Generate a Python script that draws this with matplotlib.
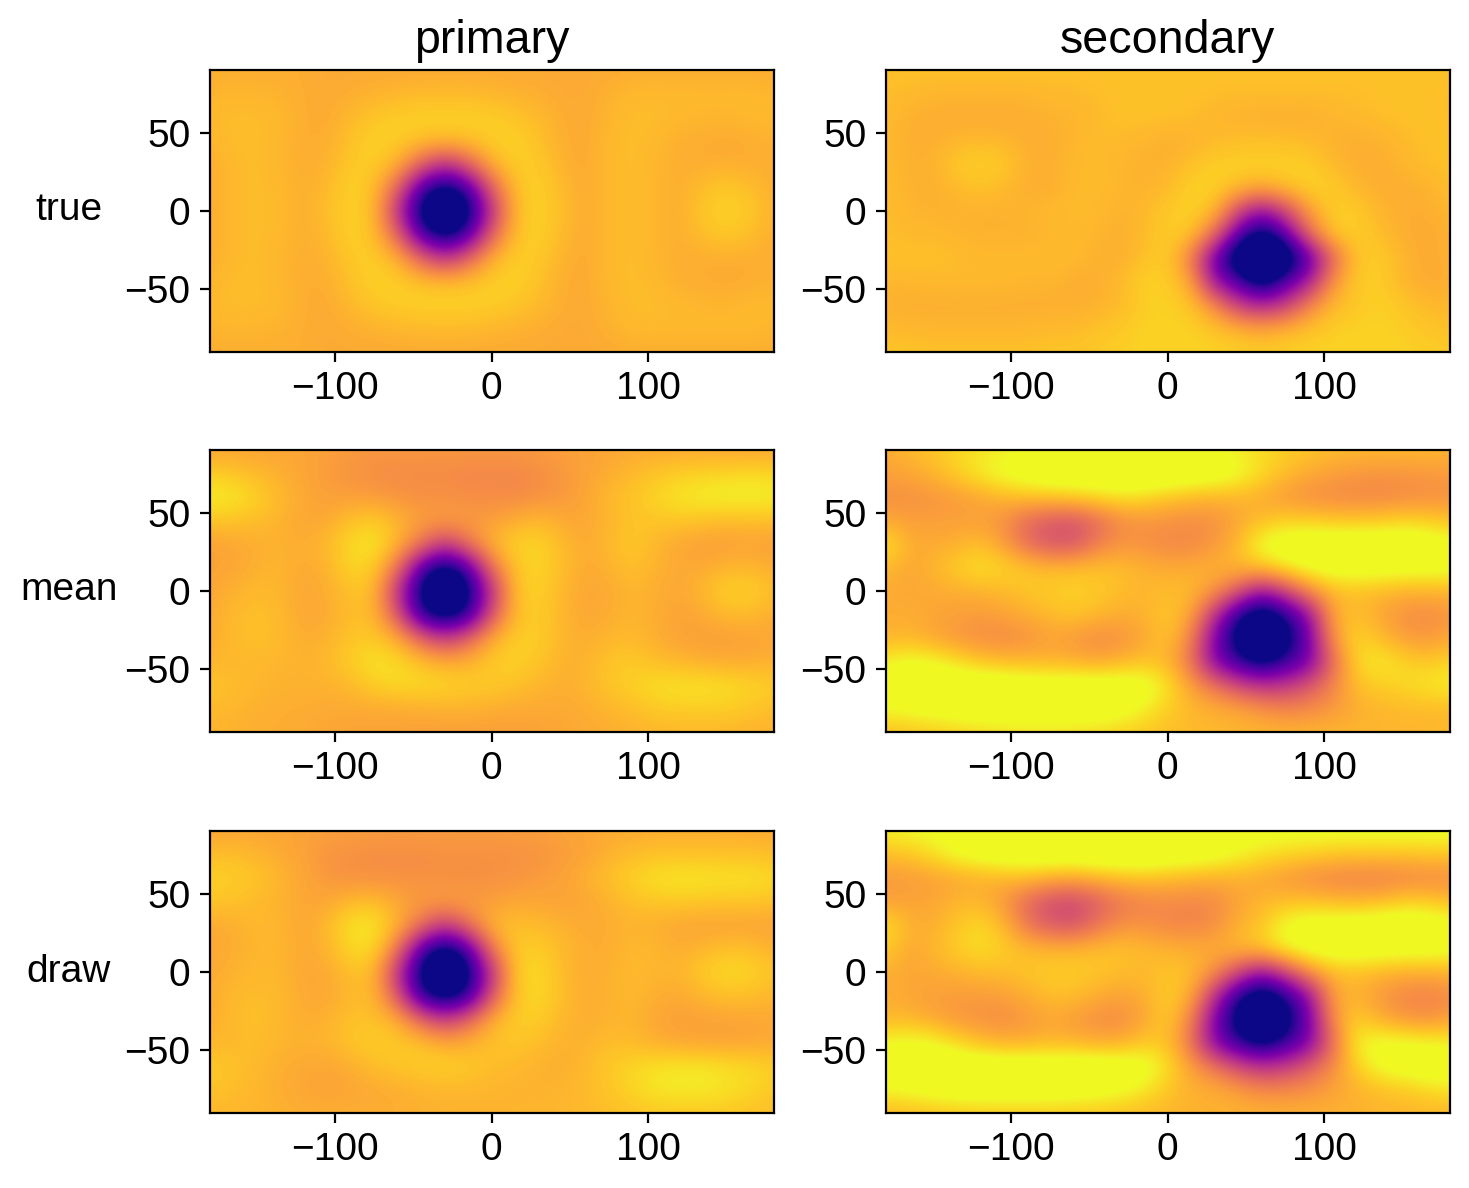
import numpy as np
import matplotlib
matplotlib.use("Agg")
import matplotlib.pyplot as plt

plt.rcParams['font.family'] = ['Liberation Sans', 'DejaVu Sans']
plt.rcParams['font.size'] = 14

# brightness maps on a 15 degree grid, lat 90 to -90 (rows), lon -180 to 180 (cols)
# values in percent of the colour range, clipped below 0 and above 100 when drawn
primary_true = [
    [82, 82, 82, 82, 82, 81, 81, 81, 81, 81, 81, 81, 81, 81, 81, 81, 81, 81, 82, 82, 82, 82, 82, 82, 82],
    [84, 84, 84, 83, 82, 81, 82, 83, 84, 85, 85, 85, 84, 83, 82, 81, 81, 83, 85, 85, 85, 85, 85, 85, 84],
    [85, 86, 86, 85, 82, 81, 85, 88, 90, 91, 91, 91, 90, 88, 85, 82, 81, 84, 86, 86, 85, 84, 84, 85, 85],
    [84, 86, 86, 84, 82, 82, 87, 91, 90, 87, 86, 87, 90, 91, 87, 82, 81, 85, 86, 85, 82, 82, 81, 82, 83],
    [82, 85, 86, 84, 82, 83, 89, 90, 83, 60, 42, 60, 83, 90, 89, 83, 81, 85, 86, 84, 82, 82, 82, 82, 82],
    [82, 85, 86, 85, 82, 85, 91, 87, 60, 13, -4, 13, 60, 87, 91, 85, 81, 85, 86, 84, 82, 86, 89, 86, 82],
    [82, 85, 86, 85, 82, 86, 91, 86, 42, -4, -60, -4, 42, 86, 91, 86, 81, 85, 86, 84, 82, 89, 91, 89, 83],
    [82, 85, 86, 85, 82, 85, 91, 87, 60, 13, -4, 13, 60, 87, 91, 85, 81, 85, 86, 84, 82, 86, 89, 86, 82],
    [82, 85, 86, 84, 82, 83, 89, 90, 83, 60, 42, 60, 83, 90, 89, 83, 81, 85, 86, 84, 82, 82, 82, 82, 82],
    [84, 86, 86, 84, 82, 82, 87, 91, 90, 87, 86, 87, 90, 91, 87, 82, 81, 85, 86, 85, 82, 82, 81, 82, 83],
    [85, 86, 86, 85, 82, 81, 85, 88, 90, 91, 91, 91, 90, 88, 85, 82, 81, 84, 86, 86, 85, 84, 84, 85, 85],
    [84, 84, 84, 83, 82, 81, 82, 83, 84, 85, 85, 85, 84, 83, 82, 81, 81, 83, 85, 85, 85, 85, 85, 85, 84],
    [82, 82, 82, 82, 82, 81, 81, 81, 81, 81, 81, 81, 81, 81, 81, 81, 81, 81, 82, 82, 82, 82, 82, 82, 82],
]
secondary_true = [
    [87, 87, 87, 87, 87, 87, 87, 87, 87, 87, 87, 87, 87, 87, 87, 87, 87, 87, 87, 87, 87, 87, 87, 87, 87],
    [86, 85, 84, 84, 84, 84, 84, 85, 85, 86, 87, 87, 87, 87, 86, 86, 86, 86, 86, 86, 86, 87, 87, 87, 86],
    [85, 83, 82, 81, 81, 81, 82, 83, 84, 85, 87, 87, 87, 86, 84, 83, 82, 82, 82, 84, 85, 86, 87, 87, 86],
    [85, 82, 82, 84, 85, 84, 82, 82, 84, 86, 85, 84, 82, 83, 85, 86, 87, 86, 85, 83, 82, 83, 85, 87, 87],
    [85, 83, 83, 89, 91, 89, 83, 82, 85, 86, 84, 83, 83, 87, 90, 91, 91, 91, 90, 85, 82, 82, 84, 86, 87],
    [86, 83, 82, 85, 87, 85, 82, 82, 85, 86, 84, 83, 85, 91, 91, 86, 82, 87, 91, 90, 84, 82, 82, 83, 86],
    [86, 84, 83, 83, 83, 83, 84, 85, 86, 85, 83, 85, 89, 91, 86, 50, 30, 50, 78, 90, 90, 84, 82, 82, 84],
    [86, 85, 85, 84, 83, 83, 83, 84, 85, 84, 82, 85, 90, 88, 62, 18, -10, 18, 62, 88, 90, 86, 82, 81, 83],
    [87, 87, 87, 86, 85, 85, 85, 86, 85, 83, 82, 87, 90, 68, 20, -20, -70, -20, 15, 60, 88, 90, 84, 81, 83],
    [84, 84, 85, 85, 85, 85, 84, 84, 82, 82, 85, 91, 90, 80, 30, 15, -10, 15, 35, 75, 89, 90, 84, 81, 82],
    [83, 82, 82, 82, 82, 82, 82, 82, 82, 83, 85, 90, 91, 88, 72, 46, 38, 46, 70, 85, 88, 91, 88, 85, 84],
    [85, 84, 84, 84, 84, 84, 84, 85, 85, 87, 89, 91, 91, 91, 88, 84, 80, 84, 87, 90, 91, 91, 90, 88, 87],
    [88, 88, 87, 87, 87, 87, 87, 88, 88, 89, 90, 91, 91, 91, 91, 90, 90, 90, 91, 91, 91, 91, 91, 90, 89],
]
primary_mean = [
    [80, 80, 80, 80, 80, 78, 77, 76, 76, 76, 76, 76, 76, 76, 77, 78, 79, 80, 81, 81, 81, 81, 80, 80, 80],
    [90, 88, 85, 82, 80, 77, 75, 73, 72, 72, 72, 71, 71, 71, 73, 76, 79, 82, 85, 88, 90, 91, 92, 93, 92],
    [98, 96, 91, 85, 81, 78, 78, 77, 75, 74, 74, 73, 73, 72, 74, 76, 80, 85, 88, 92, 96, 98, 99, 99, 98],
    [88, 87, 86, 83, 80, 81, 87, 90, 84, 78, 78, 77, 78, 82, 85, 81, 80, 84, 87, 88, 88, 87, 85, 86, 86],
    [79, 80, 82, 83, 82, 85, 93, 96, 84, 66, 45, 66, 84, 91, 92, 85, 81, 85, 89, 84, 80, 78, 78, 79, 78],
    [79, 80, 83, 84, 81, 83, 92, 90, 65, 15, -5, 15, 65, 88, 92, 86, 81, 83, 87, 83, 81, 81, 84, 84, 82],
    [80, 83, 85, 84, 80, 82, 87, 86, 42, -2, -60, -2, 42, 88, 91, 84, 80, 81, 84, 82, 80, 85, 91, 91, 86],
    [81, 85, 87, 85, 80, 81, 86, 85, 55, 5, -8, 5, 55, 86, 90, 84, 80, 82, 84, 82, 79, 81, 85, 85, 82],
    [82, 85, 87, 85, 82, 83, 88, 89, 82, 60, 45, 60, 82, 90, 90, 84, 82, 84, 85, 82, 79, 78, 78, 79, 80],
    [83, 85, 85, 84, 83, 85, 90, 95, 93, 87, 82, 83, 89, 91, 88, 83, 83, 88, 89, 86, 84, 82, 81, 81, 83],
    [88, 86, 84, 83, 83, 83, 85, 90, 93, 93, 92, 90, 89, 87, 84, 82, 84, 88, 91, 94, 95, 95, 94, 92, 90],
    [85, 84, 83, 82, 82, 81, 81, 81, 81, 82, 83, 83, 82, 81, 81, 81, 82, 84, 86, 89, 90, 90, 90, 88, 86],
    [84, 83, 82, 82, 81, 80, 79, 79, 79, 78, 78, 78, 78, 78, 79, 80, 81, 82, 83, 84, 84, 84, 84, 83, 83],
]
secondary_mean = [
    [82, 85, 88, 92, 95, 97, 99, 100, 100, 100, 100, 100, 100, 100, 99, 97, 93, 90, 88, 86, 85, 85, 85, 85, 84],
    [78, 80, 84, 90, 97, 103, 106, 110, 110, 110, 112, 112, 112, 110, 108, 102, 93, 86, 81, 78, 76, 75, 75, 76, 77],
    [74, 74, 75, 77, 80, 84, 87, 88, 90, 93, 95, 93, 88, 85, 83, 84, 81, 76, 73, 72, 71, 71, 72, 73, 74],
    [80, 78, 78, 78, 78, 74, 62, 56, 54, 62, 72, 75, 74, 73, 74, 80, 86, 90, 90, 88, 88, 89, 91, 90, 87],
    [96, 82, 81, 83, 86, 78, 63, 55, 55, 68, 75, 74, 71, 71, 76, 85, 103, 108, 110, 110, 110, 110, 110, 108, 103],
    [85, 80, 84, 90, 95, 92, 88, 85, 86, 87, 86, 83, 81, 82, 83, 85, 88, 96, 102, 106, 107, 106, 105, 105, 104],
    [81, 80, 81, 82, 83, 85, 88, 90, 91, 89, 86, 84, 86, 85, 76, 56, 33, 50, 72, 85, 86, 85, 83, 83, 84],
    [82, 82, 80, 78, 77, 79, 82, 85, 88, 85, 82, 83, 89, 80, 42, 5, -15, 5, 30, 80, 87, 80, 74, 72, 75],
    [83, 84, 80, 76, 73, 72, 74, 79, 76, 72, 74, 80, 88, 70, 25, -10, -60, -10, 22, 75, 92, 86, 78, 76, 80],
    [98, 102, 100, 94, 88, 85, 84, 83, 82, 80, 83, 87, 84, 65, 25, 8, -5, 8, 22, 62, 92, 97, 92, 88, 92],
    [105, 108, 110, 110, 110, 110, 108, 108, 108, 108, 108, 106, 95, 78, 65, 50, 42, 45, 55, 70, 86, 90, 92, 96, 98],
    [100, 103, 105, 107, 108, 108, 108, 108, 108, 108, 105, 98, 90, 85, 82, 80, 75, 70, 72, 76, 82, 84, 85, 85, 85],
    [86, 87, 88, 90, 92, 93, 94, 94, 93, 92, 90, 88, 86, 85, 85, 84, 84, 84, 84, 84, 84, 84, 84, 84, 85],
]
primary_draw = [
    [80, 80, 80, 80, 79, 78, 78, 77, 77, 77, 77, 77, 77, 78, 78, 79, 80, 81, 81, 82, 82, 82, 82, 81, 81],
    [86, 86, 84, 81, 79, 75, 74, 73, 73, 73, 74, 74, 74, 74, 75, 77, 79, 83, 86, 87, 87, 87, 87, 87, 86],
    [91, 90, 88, 84, 80, 76, 74, 74, 74, 74, 74, 73, 74, 75, 77, 79, 83, 87, 91, 95, 96, 96, 95, 95, 93],
    [88, 87, 85, 83, 80, 80, 85, 86, 80, 77, 78, 78, 78, 80, 80, 79, 80, 83, 87, 88, 89, 88, 88, 88, 87],
    [81, 82, 85, 84, 80, 85, 95, 96, 84, 65, 45, 65, 84, 87, 85, 83, 81, 82, 83, 82, 80, 79, 79, 79, 79],
    [80, 82, 84, 84, 81, 83, 93, 93, 66, 15, -5, 15, 68, 89, 90, 85, 82, 82, 85, 84, 82, 84, 87, 86, 83],
    [81, 83, 85, 84, 80, 81, 86, 86, 42, -2, -60, -2, 42, 90, 93, 85, 81, 83, 85, 84, 84, 90, 93, 92, 88],
    [82, 85, 86, 85, 81, 80, 85, 85, 55, 5, -8, 5, 55, 88, 93, 86, 82, 83, 85, 82, 81, 84, 87, 86, 84],
    [82, 85, 87, 84, 82, 83, 87, 87, 82, 60, 45, 60, 82, 90, 90, 84, 82, 83, 84, 80, 78, 79, 79, 80, 81],
    [84, 85, 86, 84, 83, 84, 88, 90, 89, 87, 81, 83, 87, 88, 86, 83, 83, 86, 85, 82, 80, 79, 79, 79, 81],
    [89, 87, 85, 82, 81, 80, 82, 86, 88, 90, 91, 89, 86, 85, 83, 82, 85, 89, 92, 95, 96, 96, 94, 93, 90],
    [87, 86, 84, 82, 80, 79, 80, 81, 82, 83, 84, 84, 84, 83, 83, 84, 85, 88, 92, 96, 97, 97, 95, 92, 89],
    [85, 84, 84, 83, 82, 82, 82, 82, 82, 83, 83, 83, 83, 84, 84, 84, 85, 86, 87, 88, 88, 88, 88, 87, 86],
]
secondary_draw = [
    [98, 100, 102, 103, 103, 103, 103, 103, 103, 103, 103, 103, 103, 103, 103, 103, 103, 103, 103, 103, 103, 103, 103, 103, 103],
    [86, 88, 94, 102, 106, 108, 110, 110, 110, 112, 112, 112, 110, 108, 105, 100, 95, 92, 90, 88, 87, 87, 87, 88, 88],
    [76, 77, 78, 80, 82, 84, 85, 82, 80, 83, 86, 87, 85, 83, 82, 82, 80, 76, 72, 70, 69, 69, 70, 71, 72],
    [78, 79, 80, 84, 84, 76, 62, 52, 50, 58, 66, 70, 72, 71, 72, 79, 84, 86, 87, 85, 84, 85, 90, 90, 86],
    [95, 83, 82, 88, 93, 85, 66, 56, 54, 65, 74, 74, 71, 70, 73, 83, 88, 102, 106, 107, 108, 110, 110, 108, 104],
    [90, 80, 84, 90, 94, 90, 85, 84, 84, 86, 87, 85, 83, 82, 82, 85, 90, 100, 105, 108, 108, 107, 106, 106, 104],
    [82, 80, 81, 83, 85, 86, 88, 90, 90, 88, 86, 85, 88, 86, 74, 52, 32, 50, 74, 85, 86, 84, 82, 82, 83],
    [82, 80, 78, 77, 77, 78, 82, 86, 86, 82, 79, 82, 90, 82, 42, 5, -15, 5, 30, 78, 84, 76, 71, 69, 72],
    [84, 84, 80, 76, 74, 73, 76, 80, 77, 73, 72, 80, 90, 70, 25, -10, -60, -10, 22, 74, 90, 82, 76, 74, 78],
    [100, 102, 100, 93, 86, 82, 82, 84, 83, 81, 82, 88, 87, 65, 25, 8, -5, 8, 24, 62, 98, 103, 102, 100, 98],
    [106, 108, 110, 110, 110, 110, 110, 110, 110, 110, 108, 106, 94, 78, 65, 50, 42, 46, 58, 72, 90, 102, 106, 108, 108],
    [100, 102, 105, 108, 108, 108, 108, 108, 106, 105, 102, 96, 88, 83, 82, 78, 72, 72, 74, 79, 83, 86, 88, 92, 95],
    [84, 85, 86, 87, 88, 88, 88, 88, 88, 87, 86, 85, 84, 83, 83, 83, 83, 83, 83, 83, 83, 84, 84, 84, 84],
]

row_names = ["true", "mean", "draw"]
col_names = ["primary", "secondary"]
maps = [[primary_true, secondary_true],
        [primary_mean, secondary_mean],
        [primary_draw, secondary_draw]]
lon_ticks = [-100, 0, 100]
lat_ticks = [-50, 0, 50]

W, H = 1469, 1188
fig = plt.figure(figsize=(W / 200, H / 200), dpi=200)

# axes edges in pixels
lefts = [210, 886]
tops = [70, 450, 831]
ax_w, ax_h = 563.5, 282

for i in range(3):
    for j in range(2):
        ax = fig.add_axes([lefts[j] / W, 1 - (tops[i] + ax_h) / H, ax_w / W, ax_h / H])
        # grid values sit on the nodes, so the image reaches half a cell past the limits
        ax.imshow(np.array(maps[i][j]) / 100, cmap="plasma", vmin=0, vmax=1,
                  interpolation="bicubic", extent=(-187.5, 187.5, -97.5, 97.5), aspect="auto")
        ax.set_xlim(-180, 180)
        ax.set_ylim(-90, 90)
        ax.set_xticks(lon_ticks)
        ax.set_yticks(lat_ticks)
        if i == 0:
            ax.set_title(col_names[j], fontsize=16.8)
    fig.text(69 / W, 1 - (tops[i] + ax_h / 2 - 0.5) / H, row_names[i], ha="center", va="center")

fig.savefig("out.png", dpi=200)
